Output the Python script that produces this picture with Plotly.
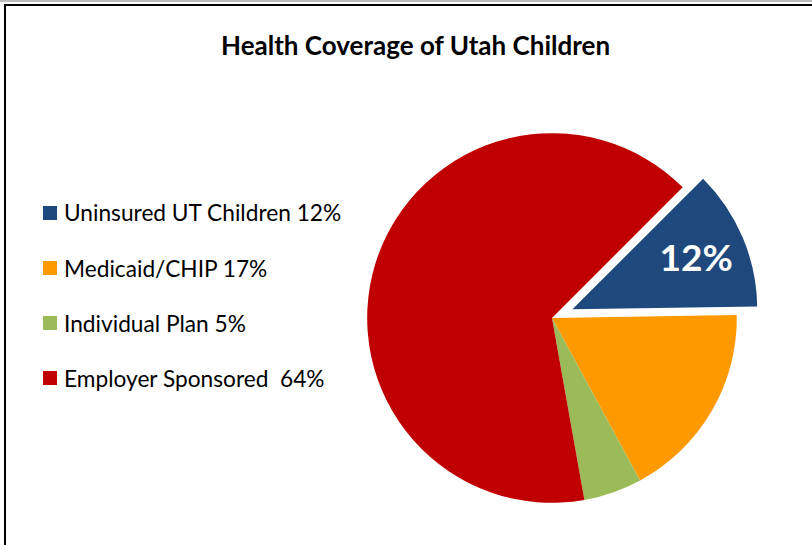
import plotly.graph_objects as go

# Coverage categories and their shares (percent)
labels = ["Uninsured UT Children", "Medicaid/CHIP", "Individual Plan", "Employer Sponsored"]
legend_text = ["Uninsured UT Children 12%", "Medicaid/CHIP 17%", "Individual Plan 5%", "Employer Sponsored  64%"]
values = [12, 17, 5, 64]
colors = ["#1F497D", "#FF9900", "#9BBB59", "#C00000"]
pulls = [0.12, 0, 0, 0]
show_label = [True, False, False, False]

W, H = 812, 545
FONT = "Lato, 'Open Sans', sans-serif"

slice_text = [f"{v}%" if s else "" for v, s in zip(values, show_label)]

fig = go.Figure()
fig.add_trace(go.Pie(
    labels=labels,
    values=values,
    text=slice_text,
    textinfo="text",
    textposition="inside",
    insidetextorientation="horizontal",
    textfont=dict(family=FONT, size=37, color="white", weight="bold"),
    marker=dict(colors=colors, line=dict(width=0)),
    pull=pulls,
    sort=False,
    direction="clockwise",
    rotation=45,
    showlegend=False,
    hoverinfo="label+value",
    domain=dict(x=[345 / W, 759 / W], y=[1 - 525 / H, 1 - 111 / H]),
))

# Legend drawn as coloured squares with labels
shapes = []
annotations = []
row_y = [213, 268, 323, 378]
for txt, col, yy in zip(legend_text, colors, row_y):
    shapes.append(dict(type="rect", xref="paper", yref="paper",
                       x0=43 / W, x1=57 / W, y0=1 - (yy + 7) / H, y1=1 - (yy - 7) / H,
                       fillcolor=col, line=dict(width=0)))
    annotations.append(dict(text=txt, xref="paper", yref="paper",
                            x=62 / W, y=1 - yy / H, xanchor="left", yanchor="middle",
                            showarrow=False,
                            font=dict(family=FONT, size=22.7, color="black")))

# Chart frame (runs off the right and bottom edges)
shapes.append(dict(type="rect", xref="paper", yref="paper",
                   x0=5 / W, x1=1.05, y0=-0.05, y1=1 - 5 / H,
                   line=dict(color="black", width=2), fillcolor="rgba(0,0,0,0)"))
shapes.append(dict(type="line", xref="paper", yref="paper",
                   x0=0, x1=1, y0=1 - 1 / H, y1=1 - 1 / H,
                   line=dict(color="#BBBBBB", width=2)))

annotations.append(dict(text="<b>Health Coverage of Utah Children</b>", xref="paper", yref="paper",
                        x=415 / W, y=1 - 45 / H, xanchor="center", yanchor="middle",
                        showarrow=False,
                        font=dict(family=FONT, size=26, color="black")))

fig.update_layout(
    width=W, height=H,
    margin=dict(l=0, r=0, t=0, b=0),
    paper_bgcolor="white",
    plot_bgcolor="white",
    shapes=shapes,
    annotations=annotations,
)

fig.write_html("out.html")
